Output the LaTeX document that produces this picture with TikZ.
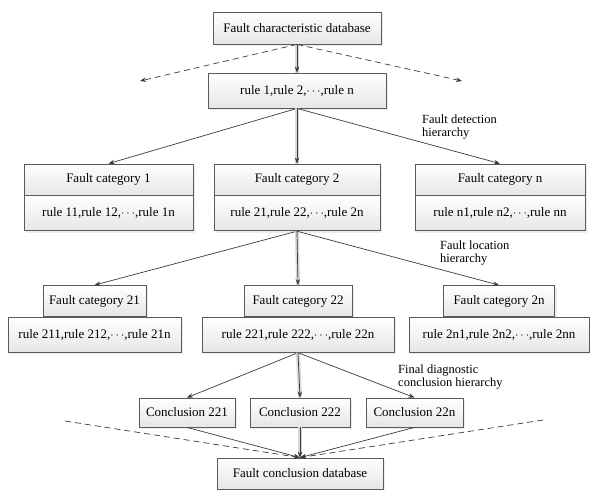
\documentclass[tikz,border=0pt]{standalone}
\usepackage{fontspec}
\setmainfont{Liberation Serif}
\usepackage{tikz}
\usetikzlibrary{arrows.meta,positioning,shadows}
\definecolor{BoxEdge}{HTML}{5A5A5A}
\definecolor{BoxFill}{HTML}{E4E6E8}
\definecolor{LineGray}{HTML}{3A3A3A}

\begin{document}
\begin{tikzpicture}[
  x=1pt, y=-1pt,
  font=\fontsize{13}{15}\selectfont,
  box/.style={draw=BoxEdge, line width=0.8pt, top color=white, bottom color=BoxFill, drop shadow={shadow xshift=2pt, shadow yshift=-2pt, fill=black!15}, align=center, inner sep=2pt},
  arr/.style={-{Stealth[length=6pt,width=4.5pt]}, draw=LineGray, line width=0.7pt},
  trunk/.style={arr, preaction={draw=black!15, line width=4pt, -}},
  dasharr/.style={arr, dashed, dash pattern=on 6pt off 4pt},
  note/.style={align=left, inner sep=0pt, anchor=west, font=\fontsize{12.5}{12.5}\selectfont}
]
  \useasboundingbox (0,0) rectangle (590,490);

  % level 0
  \node[box, minimum width=168, minimum height=32] (topdb) at (297,28) {Fault characteristic database};
  \node[box, minimum width=178, minimum height=35] (rules) at (297,90.5) {rule 1,rule 2,$\cdots$,rule n};
  \coordinate (dl) at (140,81);
  \coordinate (dr) at (462,81);

  % fault detection hierarchy
  \node[box, minimum width=169, minimum height=31] (cat1) at (108.5,179.5) {Fault category 1};
  \node[box, minimum width=169, minimum height=35, below=0pt of cat1] (r1) {rule 11,rule 12,$\cdots$,rule 1n};
  \node[box, minimum width=166, minimum height=31] (cat2) at (297,179.5) {Fault category 2};
  \node[box, minimum width=166, minimum height=35, below=0pt of cat2] (r2) {rule 21,rule 22,$\cdots$,rule 2n};
  \node[box, minimum width=170, minimum height=31] (catn) at (500,179.5) {Fault category n};
  \node[box, minimum width=170, minimum height=35, below=0pt of catn] (rn) {rule n1,rule n2,$\cdots$,rule nn};

  % fault location hierarchy
  \node[box, minimum width=103, minimum height=31] (cat21) at (94.5,301) {Fault category 21};
  \node[box, minimum width=173, minimum height=35, below=0pt of cat21] (r21) {rule 211,rule 212,$\cdots$,rule 21n};
  \node[box, minimum width=108, minimum height=31] (cat22) at (298,301) {Fault category 22};
  \node[box, minimum width=192, minimum height=35, below=0pt of cat22] (r22) {rule 221,rule 222,$\cdots$,rule 22n};
  \node[box, minimum width=111, minimum height=31] (cat2n) at (499,301) {Fault category 2n};
  \node[box, minimum width=180, minimum height=35, below=0pt of cat2n] (r2n) {rule 2n1,rule 2n2,$\cdots$,rule 2nn};

  % conclusions
  \node[box, minimum width=96, minimum height=29] (c221) at (187,412.5) {Conclusion 221};
  \node[box, minimum width=100, minimum height=29] (c222) at (300,412.5) {Conclusion 222};
  \node[box, minimum width=97, minimum height=29] (c22n) at (414.5,412.5) {Conclusion 22n};
  \node[box, minimum width=166, minimum height=31] (enddb) at (300,473.5) {Fault conclusion database};
  \coordinate (bl) at (65,421);
  \coordinate (br) at (543,420);

  % level notes
  \node[note] (n1) at (422,127) {Fault detection\\hierarchy};
  \node[note] (n2) at (440,253) {Fault location\\hierarchy};
  \node[note] (n3) at (398,377) {Final diagnostic\\conclusion hierarchy};

  \draw[trunk] (topdb) -- (rules);
  \draw[dasharr] (topdb.south) -- (dl);
  \draw[dasharr] (topdb.south) -- (dr);
  \draw[arr] (rules.south) -- (cat1.north);
  \draw[trunk] (rules.south) -- (cat2.north);
  \draw[arr] (rules.south) -- (catn.north);
  \draw[arr] (r2.south) -- (cat21.north);
  \draw[trunk] (r2.south) -- (cat22.north);
  \draw[arr] (r2.south) -- (cat2n.north);
  \draw[arr] (r22.south) -- (c221.north);
  \draw[trunk] (r22.south) -- (c222.north);
  \draw[arr] (r22.south) -- (c22n.north);
  \draw[arr] (c221.south) -- (enddb.north);
  \draw[trunk] (c222.south) -- (enddb.north);
  \draw[arr] (c22n.south) -- (enddb.north);
  \draw[dasharr] (bl) -- (enddb.north);
  \draw[dasharr] (br) -- (enddb.north);
\end{tikzpicture}
\end{document}
